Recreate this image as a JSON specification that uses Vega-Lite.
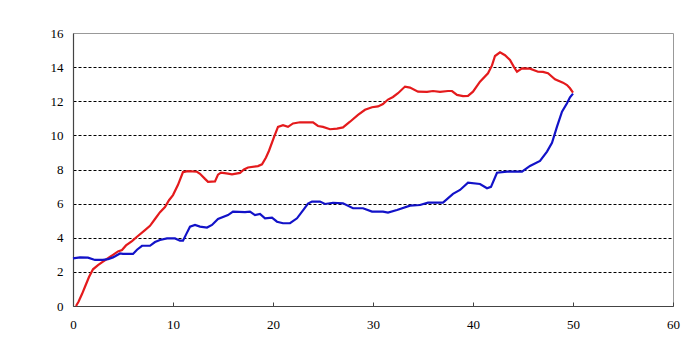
{
  "$schema": "https://vega.github.io/schema/vega-lite/v6.json",
  "width": 600,
  "height": 273,
  "autosize": "none",
  "padding": {"left": 73, "top": 33, "right": 23, "bottom": 57},
  "background": "white",
  "config": {
    "view": {"stroke": "#999999", "strokeWidth": 1},
    "axis": {"labelFont": "Liberation Sans Narrow", "labelFontSize": 13, "labelColor": "#000000", "domainColor": "#444444", "domainWidth": 1.2}
  },
  "data": {"values": [
    {"s":"A","x":0.3,"y":0},{"s":"A","x":0.55,"y":0.25},{"s":"A","x":0.9,"y":0.7},{"s":"A","x":1.2,"y":1.13},{"s":"A","x":1.6,"y":1.7},{"s":"A","x":2.0,"y":2.15},{"s":"A","x":2.5,"y":2.4},{"s":"A","x":3.0,"y":2.6},{"s":"A","x":3.5,"y":2.8},{"s":"A","x":4.0,"y":3.0},{"s":"A","x":4.5,"y":3.2},{"s":"A","x":4.9,"y":3.28},{"s":"A","x":5.3,"y":3.55},{"s":"A","x":5.9,"y":3.8},{"s":"A","x":6.4,"y":4.06},{"s":"A","x":7.2,"y":4.45},{"s":"A","x":7.7,"y":4.7},{"s":"A","x":8.2,"y":5.1},{"s":"A","x":8.7,"y":5.5},{"s":"A","x":9.2,"y":5.8},{"s":"A","x":9.6,"y":6.2},{"s":"A","x":10.0,"y":6.5},{"s":"A","x":10.5,"y":7.1},{"s":"A","x":11.0,"y":7.85},{"s":"A","x":11.5,"y":7.9},{"s":"A","x":12.4,"y":7.87},{"s":"A","x":12.7,"y":7.75},{"s":"A","x":13.2,"y":7.45},{"s":"A","x":13.5,"y":7.28},{"s":"A","x":14.2,"y":7.3},{"s":"A","x":14.5,"y":7.7},{"s":"A","x":14.8,"y":7.82},{"s":"A","x":15.5,"y":7.76},{"s":"A","x":15.9,"y":7.72},{"s":"A","x":16.7,"y":7.8},{"s":"A","x":17.1,"y":8.0},{"s":"A","x":17.5,"y":8.12},{"s":"A","x":18.5,"y":8.2},{"s":"A","x":18.9,"y":8.3},{"s":"A","x":19.3,"y":8.7},{"s":"A","x":19.6,"y":9.1},{"s":"A","x":20.1,"y":9.9},{"s":"A","x":20.5,"y":10.5},{"s":"A","x":21.0,"y":10.6},{"s":"A","x":21.5,"y":10.5},{"s":"A","x":22.0,"y":10.7},{"s":"A","x":22.7,"y":10.77},{"s":"A","x":24.0,"y":10.76},{"s":"A","x":24.5,"y":10.55},{"s":"A","x":25.0,"y":10.5},{"s":"A","x":25.7,"y":10.36},{"s":"A","x":26.4,"y":10.4},{"s":"A","x":27.0,"y":10.47},{"s":"A","x":27.7,"y":10.8},{"s":"A","x":28.5,"y":11.2},{"s":"A","x":29.2,"y":11.5},{"s":"A","x":29.9,"y":11.65},{"s":"A","x":30.5,"y":11.7},{"s":"A","x":31.0,"y":11.84},{"s":"A","x":31.5,"y":12.1},{"s":"A","x":32.0,"y":12.25},{"s":"A","x":32.5,"y":12.47},{"s":"A","x":33.2,"y":12.86},{"s":"A","x":33.7,"y":12.8},{"s":"A","x":34.5,"y":12.56},{"s":"A","x":35.4,"y":12.55},{"s":"A","x":36.0,"y":12.6},{"s":"A","x":36.7,"y":12.55},{"s":"A","x":37.5,"y":12.6},{"s":"A","x":37.9,"y":12.6},{"s":"A","x":38.4,"y":12.37},{"s":"A","x":39.0,"y":12.3},{"s":"A","x":39.5,"y":12.31},{"s":"A","x":40.0,"y":12.56},{"s":"A","x":40.7,"y":13.15},{"s":"A","x":41.5,"y":13.64},{"s":"A","x":41.9,"y":14.1},{"s":"A","x":42.2,"y":14.65},{"s":"A","x":42.7,"y":14.87},{"s":"A","x":43.2,"y":14.7},{"s":"A","x":43.7,"y":14.42},{"s":"A","x":44.1,"y":14.0},{"s":"A","x":44.4,"y":13.73},{"s":"A","x":44.9,"y":13.93},{"s":"A","x":45.7,"y":13.91},{"s":"A","x":46.5,"y":13.73},{"s":"A","x":47.0,"y":13.72},{"s":"A","x":47.5,"y":13.64},{"s":"A","x":48.2,"y":13.29},{"s":"A","x":49.0,"y":13.09},{"s":"A","x":49.4,"y":12.95},{"s":"A","x":49.7,"y":12.76},{"s":"A","x":50.0,"y":12.5},
    {"s":"B","x":0,"y":2.79},{"s":"B","x":0.7,"y":2.85},{"s":"B","x":1.5,"y":2.83},{"s":"B","x":2.2,"y":2.7},{"s":"B","x":3.0,"y":2.7},{"s":"B","x":3.5,"y":2.75},{"s":"B","x":4.0,"y":2.85},{"s":"B","x":4.7,"y":3.08},{"s":"B","x":5.0,"y":3.05},{"s":"B","x":6.0,"y":3.05},{"s":"B","x":6.4,"y":3.3},{"s":"B","x":6.9,"y":3.53},{"s":"B","x":7.7,"y":3.53},{"s":"B","x":8.2,"y":3.75},{"s":"B","x":8.7,"y":3.87},{"s":"B","x":9.4,"y":3.96},{"s":"B","x":10.2,"y":3.96},{"s":"B","x":10.7,"y":3.83},{"s":"B","x":11.0,"y":3.83},{"s":"B","x":11.4,"y":4.3},{"s":"B","x":11.7,"y":4.65},{"s":"B","x":12.2,"y":4.75},{"s":"B","x":12.7,"y":4.65},{"s":"B","x":13.4,"y":4.6},{"s":"B","x":13.9,"y":4.75},{"s":"B","x":14.5,"y":5.1},{"s":"B","x":15.5,"y":5.33},{"s":"B","x":16.0,"y":5.53},{"s":"B","x":17.2,"y":5.5},{"s":"B","x":17.7,"y":5.53},{"s":"B","x":18.2,"y":5.33},{"s":"B","x":18.7,"y":5.4},{"s":"B","x":19.2,"y":5.14},{"s":"B","x":19.9,"y":5.18},{"s":"B","x":20.4,"y":4.94},{"s":"B","x":21.0,"y":4.85},{"s":"B","x":21.7,"y":4.85},{"s":"B","x":22.4,"y":5.14},{"s":"B","x":23.0,"y":5.6},{"s":"B","x":23.5,"y":6.0},{"s":"B","x":23.9,"y":6.12},{"s":"B","x":24.7,"y":6.12},{"s":"B","x":25.2,"y":5.98},{"s":"B","x":26.0,"y":6.05},{"s":"B","x":27.0,"y":6.02},{"s":"B","x":28.0,"y":5.73},{"s":"B","x":29.0,"y":5.73},{"s":"B","x":29.9,"y":5.53},{"s":"B","x":31.0,"y":5.53},{"s":"B","x":31.5,"y":5.47},{"s":"B","x":32.4,"y":5.63},{"s":"B","x":33.7,"y":5.88},{"s":"B","x":34.7,"y":5.92},{"s":"B","x":35.5,"y":6.06},{"s":"B","x":37.0,"y":6.06},{"s":"B","x":38.0,"y":6.57},{"s":"B","x":38.7,"y":6.8},{"s":"B","x":39.5,"y":7.23},{"s":"B","x":40.7,"y":7.15},{"s":"B","x":41.4,"y":6.9},{"s":"B","x":41.8,"y":6.98},{"s":"B","x":42.4,"y":7.81},{"s":"B","x":43.4,"y":7.87},{"s":"B","x":44.9,"y":7.87},{"s":"B","x":45.7,"y":8.21},{"s":"B","x":46.7,"y":8.5},{"s":"B","x":47.4,"y":9.05},{"s":"B","x":47.9,"y":9.57},{"s":"B","x":48.4,"y":10.51},{"s":"B","x":48.9,"y":11.39},{"s":"B","x":49.4,"y":11.88},{"s":"B","x":49.7,"y":12.23},{"s":"B","x":50.0,"y":12.45}
  ]},
  "mark": {"type": "line", "strokeWidth": 2.2, "clip": false},
  "encoding": {
    "x": {"field": "x", "type": "quantitative", "scale": {"domain": [0, 60], "nice": false, "zero": false},
      "axis": {"title": null, "values": [0,10,20,30,40,50,60], "grid": false, "tickSize": -4, "tickColor": "#444444", "labelPadding": 16, "labelFlush": false}},
    "y": {"field": "y", "type": "quantitative", "scale": {"domain": [0, 16], "nice": false},
      "axis": {"title": null, "values": [0,2,4,6,8,10,12,14,16], "grid": true, "gridColor": "#000000", "gridDash": [3,2], "gridWidth": 1,
        "gridOpacity": {"condition": {"test": "datum.value == 0 || datum.value == 16", "value": 0}, "value": 1},
        "ticks": false, "labelPadding": 10}},
    "color": {"field": "s", "type": "nominal", "scale": {"domain": ["A","B"], "range": ["#e41a1c", "#1212c8"]}, "legend": null}
  }
}
